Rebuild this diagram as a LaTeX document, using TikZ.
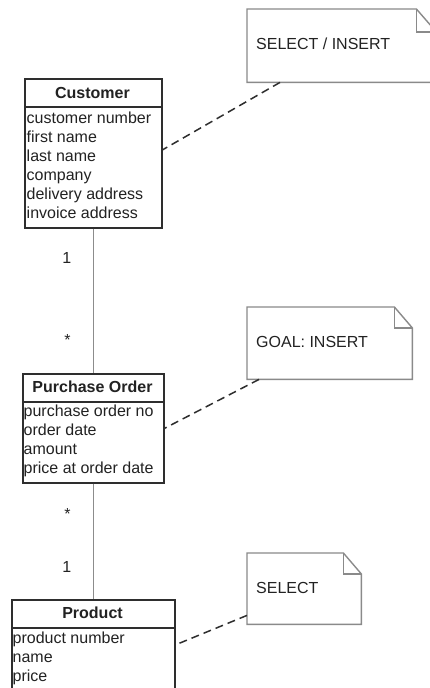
\documentclass[tikz,border=0pt]{standalone}
\usepackage{fontspec}
\setmainfont{Liberation Sans}
\usetikzlibrary{calc}
\definecolor{boxline}{HTML}{2E2E2E}
\definecolor{notegray}{HTML}{8A8A8A}
\definecolor{assocgray}{HTML}{8C8C8C}
\definecolor{txt}{HTML}{222222}
\begin{document}
\begin{tikzpicture}[x=1pt,y=-1pt,
  every node/.style={font=\fontsize{16pt}{19pt}\selectfont, text=txt, inner sep=0pt},
  classbox/.style={draw=boxline, line width=1.6pt, anchor=north west, inner sep=0pt},
  sepline/.style={draw=boxline, line width=1.6pt},
  title/.style={font=\fontsize{16pt}{19pt}\selectfont\bfseries, anchor=base},
  attr/.style={anchor=base west},
  notebox/.style={anchor=north west, inner sep=0pt},
  noteline/.style={draw=notegray, line width=1.4pt, line join=miter},
  assoc/.style={draw=assocgray, line width=1.1pt},
  link/.style={draw=boxline, line width=1.5pt, dash pattern=on 8pt off 5pt},
  mult/.style={anchor=base}]

\useasboundingbox[fill=white] (0,0) rectangle (430,688);

% ---------- classes ----------
\node[classbox, minimum width=137pt, minimum height=149pt] (cust) at (24,78) {};
\node[title] (cust-t) at (92.5,98.5) {Customer};
\draw[sepline] ([yshift=-29pt]cust.north west) -- ([yshift=-29pt]cust.north east);
\foreach \t [count=\i from 0] in {customer number, first name, last name, company, delivery address, invoice address}
  \node[attr] (cust-a\i) at (26.5,123.5+19*\i) {\t};

\node[classbox, minimum width=141pt, minimum height=109pt] (po) at (22,373) {};
\node[title] (po-t) at (92.5,392.5) {Purchase Order};
\draw[sepline] ([yshift=-29pt]po.north west) -- ([yshift=-29pt]po.north east);
\foreach \t [count=\i from 0] in {purchase order no, order date, amount, price at order date}
  \node[attr] (po-a\i) at (23.5,416.5+19*\i) {\t};

\node[classbox, minimum width=163pt, minimum height=100pt] (prod) at (11,599) {};
\node[title] (prod-t) at (92.5,618.5) {Product};
\draw[sepline] ([yshift=-29pt]prod.north west) -- ([yshift=-29pt]prod.north east);
\foreach \t [count=\i from 0] in {product number, name, price}
  \node[attr] (prod-a\i) at (12.5,643.3+19*\i) {\t};

% ---------- associations ----------
\draw[assoc] (cust.south) -- (po.north);
\draw[assoc] (po.south) -- (prod.north);
\node[mult] (m1) at (66.7,263.5) {1};
\node[mult] (m2) at (67.5,345) {*};
\node[mult] (m3) at (67.5,519) {*};
\node[mult] (m4) at (66.7,572.7) {1};

% ---------- notes ----------
\node[notebox, minimum width=189pt, minimum height=73pt] (n1) at (247,9) {};
\draw[noteline] (n1.north west) -- ([xshift=-20pt]n1.north east) -- ([yshift=-23pt]n1.north east)
  -- (n1.south east) -- (n1.south west) -- cycle;
\draw[noteline] ([xshift=-20pt]n1.north east) |- ([yshift=-23pt]n1.north east);
\node[attr] (n1-t) at (256,49.5) {SELECT / INSERT};

\node[notebox, minimum width=165pt, minimum height=72pt] (n2) at (247,307) {};
\draw[noteline] (n2.north west) -- ([xshift=-18pt]n2.north east) -- ([yshift=-21pt]n2.north east)
  -- (n2.south east) -- (n2.south west) -- cycle;
\draw[noteline] ([xshift=-18pt]n2.north east) |- ([yshift=-21pt]n2.north east);
\node[attr] (n2-t) at (256,347) {GOAL: INSERT};

\node[notebox, minimum width=114pt, minimum height=71pt] (n3) at (247,553) {};
\draw[noteline] (n3.north west) -- ([xshift=-18pt]n3.north east) -- ([yshift=-21pt]n3.north east)
  -- (n3.south east) -- (n3.south west) -- cycle;
\draw[noteline] ([xshift=-18pt]n3.north east) |- ([yshift=-21pt]n3.north east);
\node[attr] (n3-t) at (256,593) {SELECT};

% ---------- note links ----------
\draw[link] ([xshift=33pt]n1.south west) -- ([yshift=3.5pt]cust.east);
\draw[link] ([xshift=12pt]n2.south west) -- (po.east);
\draw[link] ([yshift=9pt]n3.south west) -- ([yshift=5pt]prod.east);
\end{tikzpicture}
\end{document}
